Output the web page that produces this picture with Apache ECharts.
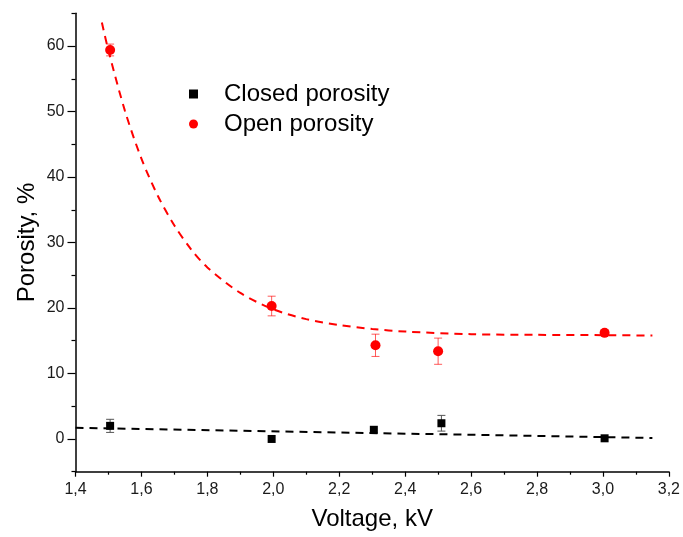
<!DOCTYPE html>
<html>
<head>
<meta charset="utf-8">
<script src="https://cdn.jsdelivr.net/npm/echarts@6/dist/echarts.min.js"></script>
<style>
  html, body { margin: 0; padding: 0; background: #fff; }
  #chart { width: 683px; height: 537px; }
</style>
</head>
<body>
<div id="chart"></div>
<script>
// measured points
const closedX = [1.505, 1.995, 2.305, 2.51, 3.005];
const closedY = [2.0, 0.0, 1.4, 2.4, 0.1];
const closedErr = [1.0, 0, 0, 1.2, 0];

const openX = [1.505, 1.995, 2.31, 2.5, 3.005];
const openY = [59.4, 20.3, 14.3, 13.4, 16.2];
const openErr = [0.9, 1.5, 1.7, 2.0, 0.4];

// fitted curves
const closedFitX = [1.4, 3.15];
const closedFitY = [1.7, 0.15];
const openFitX = [1.48, 1.5, 1.55, 1.6, 1.65, 1.7, 1.75, 1.8, 1.9, 2.0, 2.1, 2.2, 2.3, 2.4, 2.6, 2.8, 3.0, 3.15];
const openFitY = [63.6, 59.3, 50.1, 42.8, 37.1, 32.6, 29.0, 26.2, 22.3, 19.8, 18.3, 17.4, 16.8, 16.4, 16.0, 15.9, 15.85, 15.8];

const yLabels = [0, 10, 20, 30, 40, 50, 60];
const yMinorTicks = [-5, 5, 15, 25, 35, 45, 55, 65];

const FONT = 'Liberation Sans, Arial, sans-serif';

function zip(xs, ys) { return xs.map((x, i) => [x, ys[i]]); }
function errRows(xs, ys, es) { return xs.map((x, i) => [x, ys[i] - es[i], ys[i] + es[i]]); }

function errorBar(color) {
  return function (params, api) {
    const x = api.value(0);
    const lo = api.coord([x, api.value(1)]);
    const hi = api.coord([x, api.value(2)]);
    if (Math.abs(lo[1] - hi[1]) < 1) return null;
    const w = 4;
    const style = { stroke: color, lineWidth: 1 };
    return {
      type: 'group',
      children: [
        { type: 'line', shape: { x1: lo[0], y1: lo[1], x2: hi[0], y2: hi[1] }, style },
        { type: 'line', shape: { x1: lo[0] - w, y1: lo[1], x2: lo[0] + w, y2: lo[1] }, style },
        { type: 'line', shape: { x1: hi[0] - w, y1: hi[1], x2: hi[0] + w, y2: hi[1] }, style }
      ]
    };
  };
}

const chart = echarts.init(document.getElementById('chart'));
chart.setOption({
  animation: false,
  grid: { left: 75.5, right: 12, top: 13.3, bottom: 65.3, containLabel: false },
  legend: {
    orient: 'vertical',
    left: 184,
    top: 77,
    itemWidth: 9,
    itemHeight: 9,
    itemGap: 6,
    selectedMode: false,
    textStyle: { fontFamily: FONT, fontSize: 24, color: '#000', lineHeight: 24, padding: [0, 0, 0, 21] },
    data: [
      { name: 'Closed porosity', icon: 'rect', itemStyle: { color: '#000', opacity: 1 } },
      { name: 'Open porosity', icon: 'circle', itemStyle: { color: '#ff0000', opacity: 1 } }
    ]
  },
  xAxis: {
    type: 'value',
    min: 1.4,
    max: 3.2,
    interval: 0.2,
    name: 'Voltage, kV',
    nameLocation: 'middle',
    nameGap: 36,
    nameMoveOverlap: false,
    nameTextStyle: { fontFamily: FONT, fontSize: 24, color: '#000' },
    axisLine: { onZero: false, lineStyle: { color: '#000', width: 1.5 } },
    axisTick: { length: 5, lineStyle: { color: '#000', width: 1.2 } },
    minorTick: { show: true, splitNumber: 2, length: 3, lineStyle: { color: '#000', width: 1.2 } },
    axisLabel: {
      fontFamily: FONT, fontSize: 16, color: '#1a1a1a', margin: 10,
      formatter: v => v.toFixed(1).replace('.', ',')
    },
    splitLine: { show: false }
  },
  yAxis: [{
    type: 'value',
    min: -5,
    max: 65,
    name: 'Porosity, %',
    nameLocation: 'middle',
    nameGap: 36,
    nameMoveOverlap: false,
    nameTextStyle: { fontFamily: FONT, fontSize: 24, color: '#000' },
    axisLine: { show: true, onZero: false, lineStyle: { color: '#000', width: 1.5 } },
    axisTick: { show: true, length: 8, customValues: yLabels, lineStyle: { color: '#000', width: 1.2 } },
    axisLabel: { fontFamily: FONT, fontSize: 16, color: '#1a1a1a', margin: 11, customValues: yLabels },
    splitLine: { show: false }
  }, {
    type: 'value',
    min: -5,
    max: 65,
    position: 'left',
    axisLine: { show: false, onZero: false },
    axisTick: { show: true, length: 4, customValues: yMinorTicks, lineStyle: { color: '#000', width: 1.2 } },
    axisLabel: { show: false },
    splitLine: { show: false }
  }],
  series: [
    {
      name: 'closedFit', type: 'line', data: zip(closedFitX, closedFitY),
      showSymbol: false, symbol: 'none', silent: true, z: 1,
      lineStyle: { color: '#000', width: 2, type: [8, 6] }
    },
    {
      name: 'openFit', type: 'line', data: zip(openFitX, openFitY), smooth: 0.3,
      showSymbol: false, symbol: 'none', silent: true, z: 1,
      lineStyle: { color: '#ff0000', width: 2, type: [8, 6] }
    },
    {
      name: 'closedErr', type: 'custom', data: errRows(closedX, closedY, closedErr),
      renderItem: errorBar('#555'), z: 2, encode: { x: 0, y: [1, 2] }
    },
    {
      name: 'openErr', type: 'custom', data: errRows(openX, openY, openErr),
      renderItem: errorBar('rgba(255,0,0,0.65)'), z: 2, encode: { x: 0, y: [1, 2] }
    },
    {
      name: 'Closed porosity', type: 'scatter', data: zip(closedX, closedY),
      symbol: 'rect', symbolSize: 8, itemStyle: { color: '#000', opacity: 1 }, z: 3
    },
    {
      name: 'Open porosity', type: 'scatter', data: zip(openX, openY),
      symbol: 'circle', symbolSize: 10, itemStyle: { color: '#ff0000', opacity: 1 }, z: 3
    }
  ]
});
</script>
</body>
</html>
